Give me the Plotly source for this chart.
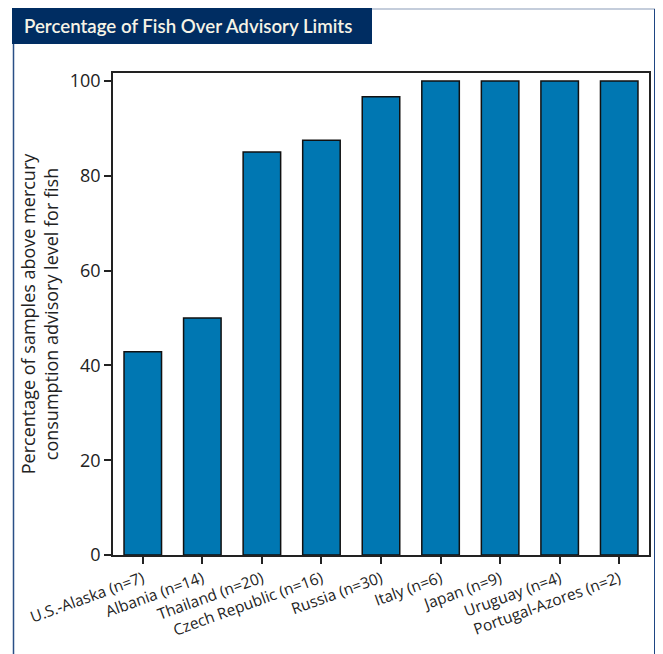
import plotly.graph_objects as go

categories = ["U.S.-Alaska (n=7)", "Albania (n=14)", "Thailand (n=20)",
              "Czech Republic (n=16)", "Russia (n=30)", "Italy (n=6)",
              "Japan (n=9)", "Uruguay (n=4)", "Portugal-Azores (n=2)"]
values = [42.9, 50.0, 85.0, 87.5, 96.7, 100.0, 100.0, 100.0, 100.0]
y_ticks = [0, 20, 40, 60, 80, 100]

OFF = 8  # page body margin
W, H = 663 - OFF, 654 - OFF
L, R, T, B = 113 - OFF, 649 - OFF, 73 - OFF, 555 - OFF

def px(x):
    return (x - OFF - L) / (R - L)

def py(y):
    return (B - (y - OFF)) / (B - T)

fig = go.Figure(go.Bar(
    x=categories, y=values,
    marker=dict(color="#0077b2", line=dict(color="#111111", width=1.5)),
    width=0.63,
))

fig.update_layout(
    width=W, height=H,
    margin=dict(l=L, r=W - R, t=T, b=H - B),
    paper_bgcolor="white", plot_bgcolor="white",
    showlegend=False,
    font=dict(family="Open Sans", color="#1a1a1a"),
)
fig.update_xaxes(
    range=[-0.5, 8.5], showline=True, linecolor="#222222", linewidth=1.5,
    mirror=True, ticks="outside", ticklen=7, tickcolor="#222222",
    tickwidth=1.5, tickangle=-20, tickfont=dict(size=15.5, color="#222222"),
    showgrid=False,
)
fig.update_yaxes(
    range=[0, (555 - 73) / ((555 - 81) / 100)], tickvals=y_ticks,
    showline=True, linecolor="#222222", linewidth=1.5, mirror=True,
    ticks="outside", ticklen=7, tickcolor="#222222", tickwidth=1.5,
    tickfont=dict(size=18, color="#222222"), showgrid=False, zeroline=False,
    title=dict(text="Percentage of samples above mercury<br>consumption advisory level for fish",
               font=dict(size=18, color="#222222"), standoff=6),
)

# outer border (left, top, right)
border = dict(color="#2a4f86", width=1.5)
fig.add_shape(type="line", xref="paper", yref="paper",
              x0=px(13.5), x1=px(13.5), y0=py(660), y1=py(9), line=border)
fig.add_shape(type="line", xref="paper", yref="paper",
              x0=px(13.5), x1=px(655), y0=py(9), y1=py(9),
              line=dict(color="#8a9cb8", width=1.2))
fig.add_shape(type="line", xref="paper", yref="paper",
              x0=px(655), x1=px(655), y0=py(660), y1=py(9),
              line=dict(color="#1e4582", width=2))
# title banner
fig.add_shape(type="rect", xref="paper", yref="paper",
              x0=px(12), x1=px(372), y0=py(44), y1=py(8),
              line=dict(width=0), fillcolor="#002d62", layer="above")
fig.add_annotation(text="Percentage of Fish Over Advisory Limits",
                   xref="paper", yref="paper", x=px(22), y=py(26),
                   xanchor="left", yanchor="middle", showarrow=False,
                   font=dict(family="Lato", size=18.7, color="#f6f3e6", weight=600))

fig.write_html("out.html")
